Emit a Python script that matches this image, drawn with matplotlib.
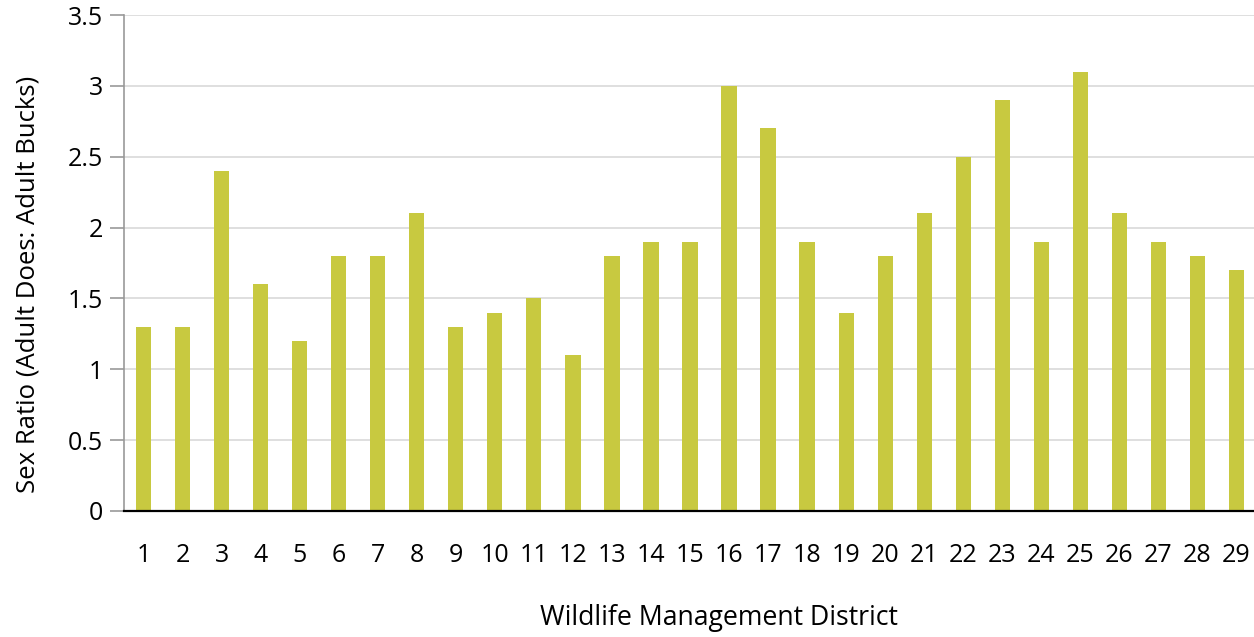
import matplotlib
matplotlib.use("Agg")
import matplotlib.pyplot as plt

districts = [str(i) for i in range(1, 30)]
sex_ratio = [1.3, 1.3, 2.4, 1.6, 1.2, 1.8, 1.8, 2.1, 1.3, 1.4, 1.5, 1.1, 1.8, 1.9,
             1.9, 3.0, 2.7, 1.9, 1.4, 1.8, 2.1, 2.5, 2.9, 1.9, 3.1, 2.1, 1.9, 1.8, 1.7]
y_ticks = [0, 0.5, 1, 1.5, 2, 2.5, 3, 3.5]
y_tick_labels = ["0", "0.5", "1", "1.5", "2", "2.5", "3", "3.5"]

plt.rcParams["font.family"] = ["Open Sans", "DejaVu Sans"]

fig = plt.figure(figsize=(12.54, 6.37), dpi=100)
ax = fig.add_axes([124 / 1254, 1 - 511 / 637, (1256 - 124) / 1254, (511 - 15) / 637])

x = list(range(len(districts)))
ax.bar(x, sex_ratio, width=0.39, color="#c8c940", zorder=3)

ax.set_xlim(-0.5, len(districts) - 0.5)
ax.set_ylim(0, 3.5)
ax.set_yticks(y_ticks)
ax.set_yticklabels(y_tick_labels)
ax.set_xticks(x)
ax.set_xticklabels(districts)

ax.grid(axis="y", color="#d9d9d9", linewidth=1.2, zorder=0)
ax.tick_params(axis="y", length=10, color="#999999", width=1.2, labelsize=18, pad=5)
ax.tick_params(axis="x", length=0, labelsize=18, pad=23)

for side in ("top", "right"):
    ax.spines[side].set_visible(False)
ax.spines["left"].set_color("#999999")
ax.spines["left"].set_linewidth(1.2)
ax.spines["bottom"].set_color("black")
ax.spines["bottom"].set_linewidth(1.6)
ax.spines["bottom"].set_zorder(4)

ax.set_ylabel("Sex Ratio (Adult Does: Adult Bucks)", fontsize=18.5, va="center")
ax.yaxis.set_label_coords(-0.085, 0.456)
ax.set_xlabel("Wildlife Management District", fontsize=19.2, va="center")
ax.xaxis.set_label_coords(0.526, -0.216)

fig.savefig("out.png", dpi=100)
